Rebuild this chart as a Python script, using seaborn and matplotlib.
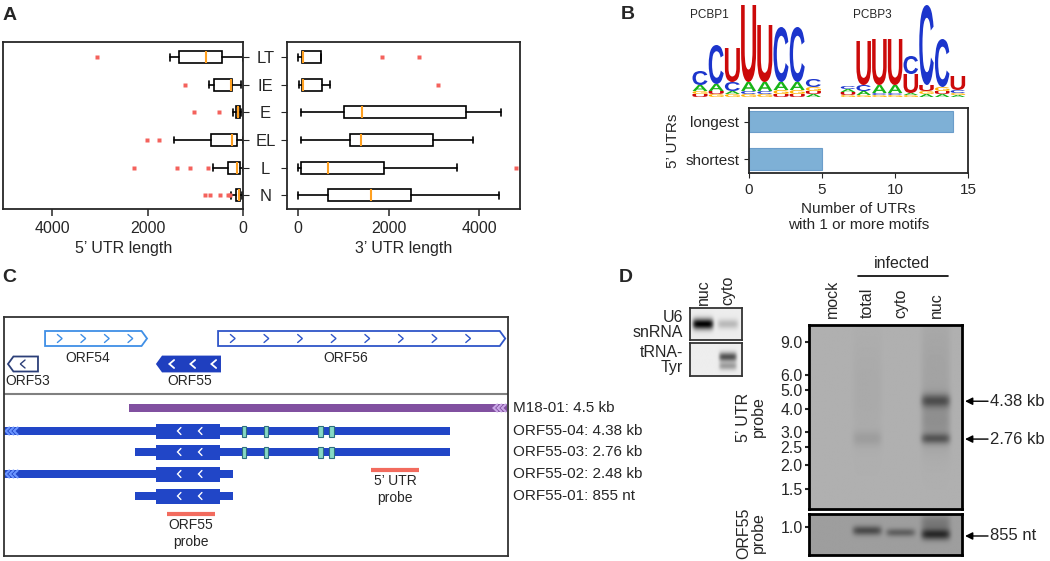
import numpy as np
import matplotlib
matplotlib.use("Agg")
import matplotlib.pyplot as plt
import seaborn as sns
from matplotlib.patches import Polygon, Rectangle, PathPatch
from matplotlib.textpath import TextPath
from matplotlib.font_manager import FontProperties
from matplotlib.transforms import Affine2D

# ---------------- data ----------------
# A: UTR length summaries per kinetic class
classes = ["LT", "IE", "E", "EL", "L", "N"]
utr5_lo = [10, 40, 40, 10, 5, 20]
utr5_q1 = [433, 223, 70, 119, 70, 56]
utr5_med = [768, 258, 100, 223, 119, 84]
utr5_q3 = [1347, 607, 150, 677, 314, 140]
utr5_hi = [1536, 719, 200, 1438, 628, 244]
utr5_out = [[3072], [1208], [1033, 510], [2024, 1759],
            [2290, 1382, 1117, 726], [803, 698, 489, 307, 279]]

utr3_lo = [0, 15, 60, 60, 0, 0]
utr3_q1 = [74, 88, 1017, 1142, 52, 663]
utr3_med = [110, 95, 1400, 1378, 663, 1599]
utr3_q3 = [494, 530, 3705, 2983, 1900, 2483]
utr3_hi = [494, 700, 4471, 3867, 3499, 4442]
utr3_out = [[1842, 2667], [3087], [], [], [4803], []]

# B: motif counts and logos (letter, height) bottom -> top
utr_groups = ["longest", "shortest"]
motif_counts = [14, 5]
pcbp1_logo = [
    [("U", 3), ("G", 3), ("A", 6), ("C", 14)],
    [("G", 3), ("U", 3), ("A", 7), ("C", 39)],
    [("G", 3), ("A", 3), ("C", 9), ("U", 34)],
    [("G", 3), ("C", 3), ("A", 9), ("U", 77)],
    [("G", 3), ("C", 3), ("A", 9), ("U", 57)],
    [("U", 3), ("G", 4), ("A", 8), ("C", 55)],
    [("U", 3), ("G", 4), ("A", 8), ("C", 55)],
    [("A", 3), ("U", 3), ("G", 4), ("C", 8)],
]
pcbp3_logo = [
    [("G", 2), ("U", 3), ("A", 3), ("C", 3)],
    [("G", 2), ("A", 4), ("C", 6), ("U", 44)],
    [("G", 2), ("C", 2), ("A", 8), ("U", 46)],
    [("G", 2), ("C", 2), ("A", 8), ("U", 46)],
    [("G", 2), ("A", 2), ("U", 19), ("C", 18)],
    [("A", 3), ("G", 3), ("U", 6), ("C", 80)],
    [("A", 3), ("U", 3), ("G", 4), ("C", 48)],
    [("A", 2), ("G", 2), ("C", 3), ("U", 14)],
]
letter_colors = {"A": "#18b418", "C": "#1c35cc", "G": "#ffb000", "U": "#cc0a0a"}

# C: locus (bp)
orf_names = ["ORF53", "ORF54", "ORF55", "ORF56"]
orf_start = [52, 493, 1825, 2551]
orf_end = [409, 1706, 2575, 5967]
orf_strand = [-1, 1, -1, 1]
orf_track = [1, 0, 1, 0]
orf_label_x = [290, 1000, 2220, 4070]
tx_names = ["M18-01: 4.5 kb", "ORF55-04: 4.38 kb", "ORF55-03: 2.76 kb",
            "ORF55-02: 2.48 kb", "ORF55-01: 855 nt"]
tx_start = [1492, 5, 1564, 5, 1564]
tx_end = [5993, 5312, 5312, 2730, 2730]
tx_cds = [None, (1813, 2575), (1813, 2575), (1813, 2575), (1813, 2575)]
tx_extends = ["right", "left", None, "left", None]
tx_marks = [[], [2861, 3123, 3766, 3897], [2861, 3123, 3766, 3897], [], []]
probe_names = ["5\u2019 UTR\nprobe", "ORF55\nprobe"]
probe_start = [4373, 1944]
probe_end = [4944, 2516]

# D: northern blots
lanes = ["mock", "total", "cyto", "nuc"]
size_markers = [9.0, 6.0, 5.0, 4.0, 3.0, 2.5, 2.0, 1.5]
utr_bands = [("nuc", 4.38, 0.30, 0.035), ("nuc", 2.76, 0.28, 0.028),
             ("nuc", 3.4, 0.10, 0.12), ("nuc", 6.0, 0.05, 0.35),
             ("total", 2.76, 0.06, 0.04), ("total", 5.0, 0.025, 0.3)]
utr_arrows = [("4.38 kb", 4.38), ("2.76 kb", 2.76)]
orf_bands = [("total", 0.93, 0.32, 0.035), ("cyto", 0.90, 0.24, 0.03),
             ("nuc", 0.87, 0.42, 0.04), ("nuc", 1.05, 0.15, 0.07)]
orf_arrows = [("855 nt", 0.855)]
frac_lanes = ["nuc", "cyto"]
u6_bands = [("nuc", 0.5, 0.92, 0.17), ("cyto", 0.5, 0.2, 0.15)]
trna_bands = [("cyto", 0.58, 0.6, 0.14), ("cyto", 0.3, 0.3, 0.12)]

# ---------------- figure ----------------
sns.set_style("ticks")
plt.rcParams["font.family"] = ["Liberation Sans", "DejaVu Sans"]
plt.rcParams["font.size"] = 11.5

W, H = 1050, 561
fig = plt.figure(figsize=(W / 100, H / 100), dpi=100)


def px_rect(x, y, w, h):
    return [x / W, 1 - (y + h) / H, w / W, h / H]


canvas = fig.add_axes([0, 0, 1, 1])
canvas.set_xlim(0, W)
canvas.set_ylim(H, 0)
canvas.axis("off")

for lab, (x, y) in zip("ABCD", [(10, 15), (628, 14), (9, 277), (626, 277)]):
    canvas.text(x, y, lab, fontsize=14, fontweight="bold", ha="center", va="center")

# ---- A ----
def box_stats(lo, q1, med, q3, hi, out):
    return [dict(whislo=a, q1=b, med=c, q3=d, whishi=e, fliers=f)
            for a, b, c, d, e, f in zip(lo, q1, med, q3, hi, out)]


box_kw = dict(positions=range(len(classes)), orientation="horizontal", widths=0.43,
              capwidths=0.25, patch_artist=True,
              boxprops=dict(facecolor="white", edgecolor="black", linewidth=1.2),
              medianprops=dict(color="#ffa020", linewidth=1.5),
              whiskerprops=dict(color="black", linewidth=1.2),
              capprops=dict(color="black", linewidth=1.2),
              flierprops=dict(marker="s", markersize=3.2, markerfacecolor="#f4625c",
                              markeredgecolor="none"))

axL = fig.add_axes(px_rect(3.3, 42, 239.7, 167))
axL.bxp(box_stats(utr5_lo, utr5_q1, utr5_med, utr5_q3, utr5_hi, utr5_out), **box_kw)
axL.set_xlim(5030, 0)
axL.set_ylim(5.5, -0.55)
axL.yaxis.tick_right()
axL.set_yticks(range(len(classes)))
axL.set_yticklabels([])
axL.set_xticks([0, 2000, 4000])
axL.set_xlabel("5\u2019 UTR length")

axR = fig.add_axes(px_rect(287.3, 42, 232.7, 167))
axR.bxp(box_stats(utr3_lo, utr3_q1, utr3_med, utr3_q3, utr3_hi, utr3_out), **box_kw)
axR.set_xlim(-243, 4900)
axR.set_ylim(5.5, -0.55)
axR.set_yticks(range(len(classes)))
axR.set_yticklabels(classes, fontsize=12)
for t in axR.get_yticklabels():
    t.set_horizontalalignment("center")
axR.set_xticks([0, 2000, 4000])
axR.set_xlabel("3\u2019 UTR length")
axR.tick_params(axis="y", length=4.3, pad=11.5)
axL.tick_params(axis="y", length=4.3)
for ax in (axL, axR):
    ax.tick_params(axis="x", length=4.8, width=1.1)
    for s in ax.spines.values():
        s.set_linewidth(1.3)

# ---- B ----
axB = fig.add_axes(px_rect(749, 108, 219, 65))
sns.barplot(x=motif_counts, y=utr_groups, orient="h", color="#7eb0d6", saturation=1,
            width=0.57, edgecolor="#6b9dca", linewidth=0.8, ax=axB)
axB.set_xlim(0, 15)
axB.set_ylim(1.37, -0.36)
axB.set_xticks([0, 5, 10, 15])
axB.set_xlabel("Number of UTRs\nwith 1 or more motifs", fontsize=11, linespacing=1.15)
axB.set_ylabel("5\u2019 UTRs", fontsize=11)
axB.tick_params(labelsize=11, length=3.6)
for s in axB.spines.values():
    s.set_linewidth(1.3)

logo_font = FontProperties(family="Liberation Sans", weight="bold")


def draw_letter(ax, ch, xc, y_bottom, w, h, color):
    tp = TextPath((0, 0), ch, size=1, prop=logo_font)
    bb = tp.get_extents()
    tr = (Affine2D().translate(-bb.x0, -bb.y0)
          .scale(w / bb.width, -h / bb.height).translate(xc - w / 2, y_bottom))
    ax.add_patch(PathPatch(tr.transform_path(tp), fc=color, ec="none"))


def draw_logo(ax, stacks, x0, step, base, width):
    for i, stack in enumerate(stacks):
        y = base
        for ch, h in stack:
            draw_letter(ax, ch, x0 + i * step, y, width, h, letter_colors[ch])
            y -= h


draw_logo(canvas, pcbp1_logo, 700, 16.2, 97, 15)
draw_logo(canvas, pcbp3_logo, 848, 15.7, 97, 14.5)
canvas.text(690, 15, "PCBP1", fontsize=8.5, ha="left", va="center")
canvas.text(853, 15, "PCBP3", fontsize=8.5, ha="left", va="center")

# ---- C ----
axC = fig.add_axes(px_rect(3.6, 317, 504.4, 239))
axC.set_xlim(0, 6000)
axC.set_ylim(239, 0)
axC.set_xticks([])
axC.set_yticks([])
for s in axC.spines.values():
    s.set_linewidth(1.3)
    s.set_color("#333333")
axC.axhline(77, color="#808080", lw=1.5)

track_y = [21.5, 47]
label_y = [41, 64]
orf_ec = ["#2c3f78", "#3f8fe6", "#1f3fbf", "#2f55c8"]
orf_fc = ["white", "white", "#1f3fbf", "white"]
chev_c = ["#2c3f78", "#3f8fe6", "white", "#2f55c8"]
chev_step = [400, 280, 250, 400]


def chevron(ax, x, y, strand, color, dx=28, dy=4, lw=1.1):
    ax.plot([x - strand * dx, x + strand * dx, x - strand * dx], [y - dy, y, y + dy],
            color=color, lw=lw, solid_capstyle="round", solid_joinstyle="miter")


for i, name in enumerate(orf_names):
    s, e, st = orf_start[i], orf_end[i], orf_strand[i]
    y, h, tip = track_y[orf_track[i]], 15, 65
    if st > 0:
        pts = [(s, y - h / 2), (e - tip, y - h / 2), (e, y), (e - tip, y + h / 2), (s, y + h / 2)]
    else:
        pts = [(e, y - h / 2), (s + tip, y - h / 2), (s, y), (s + tip, y + h / 2), (e, y + h / 2)]
    axC.add_patch(Polygon(pts, closed=True, fc=orf_fc[i], ec=orf_ec[i], lw=1.3))
    for cx in np.arange(s + tip + 110, e - tip, chev_step[i]):
        chevron(axC, cx, y, st, chev_c[i], lw=1.3 if orf_fc[i] != "white" else 1.0)
    axC.text(orf_label_x[i], label_y[orf_track[i]], name, fontsize=10, ha="center", va="center")

tx_y = [91, 114, 135, 157, 179]
blue, purple = "#2146c7", "#8150a0"
for i, name in enumerate(tx_names):
    y = tx_y[i]
    col = purple if i == 0 else blue
    axC.add_patch(Rectangle((tx_start[i], y - 4), tx_end[i] - tx_start[i], 8, fc=col, ec="none"))
    if tx_cds[i]:
        c0, c1 = tx_cds[i]
        axC.add_patch(Rectangle((c0, y - 7.5), c1 - c0, 15, fc=blue, ec="none"))
        for cx in (2089, 2339):
            chevron(axC, cx, y, -1, "white", dx=20, dy=3.5, lw=1.0)
    for m in tx_marks[i]:
        axC.add_patch(Rectangle((m - 28, y - 5.5), 56, 11, fc="#86d9c4", ec="#2f6f80", lw=0.8))
    if tx_extends[i] == "left":
        for cx in (45, 95, 145):
            chevron(axC, cx, y, -1, "#6b95ff", dx=22, dy=3.5, lw=1.5)
    elif tx_extends[i] == "right":
        for cx in (5850, 5900, 5950):
            chevron(axC, cx, y, -1, "#c9a6e6", dx=22, dy=3.5, lw=1.5)
    axC.text(6062, y, name, fontsize=11, ha="left", va="center", clip_on=False)

probe_y = [153, 197]
for name, s, e, y in zip(probe_names, probe_start, probe_end, probe_y):
    axC.plot([s, e], [y, y], color="#f26b5e", lw=3, solid_capstyle="butt")
    axC.text((s + e) / 2, y + 4, name, fontsize=10, ha="center", va="top", linespacing=1.25)

# ---- D ----
def blot(ax, bands, lane_names, lane_x, yr, bg, half_w=0.095):
    xs = np.linspace(0, 1, 200)
    ys = np.linspace(yr[0], yr[1], 240)
    X, Y = np.meshgrid(xs, ys)
    img = np.full_like(X, bg)
    for lane, yc, depth, sig in bands:
        xc = lane_x[lane_names.index(lane)]
        img -= depth * np.exp(-((X - xc) / half_w) ** 6) * np.exp(-((Y - yc) / sig) ** 2)
    ax.imshow(np.clip(img, 0, 1), cmap="gray", vmin=0, vmax=1, origin="lower",
              extent=(0, 1, yr[0], yr[1]), aspect="auto", interpolation="bilinear")
    ax.set_xlim(0, 1)
    ax.set_ylim(*yr)
    for s in ax.spines.values():
        s.set_linewidth(2)
        s.set_color("black")


def add_arrows(ax, arrows):
    tr = ax.get_yaxis_transform()
    for lab, kb in arrows:
        yv = np.log10(kb)
        ax.annotate("", xy=(1.02, yv), xycoords=tr, xytext=(1.17, yv), textcoords=tr,
                    arrowprops=dict(arrowstyle="-|>", color="black", lw=1,
                                    mutation_scale=11, shrinkA=0, shrinkB=0))
        ax.text(1.18, yv, lab, transform=tr, ha="left", va="center", fontsize=12)


lane_x = [0.15, 0.38, 0.60, 0.83]
axM = fig.add_axes(px_rect(809, 325, 153, 184))
main_yr = (np.log10(1.176), np.log10(11.1))
blot(axM, [(l, np.log10(k), d, s) for l, k, d, s in utr_bands], lanes, lane_x, main_yr, 0.69)
axM.set_yticks(np.log10(size_markers))
axM.set_yticklabels([f"{v:.1f}" for v in size_markers])
axM.tick_params(axis="y", length=3, width=1.5, pad=1.5, labelsize=11.5)
axM.xaxis.tick_top()
axM.set_xticks(lane_x)
axM.set_xticklabels(lanes, rotation=90, fontsize=11.5)
axM.tick_params(axis="x", length=0, pad=5)
add_arrows(axM, utr_arrows)

axO = fig.add_axes(px_rect(809, 514, 153, 41))
low_yr = (np.log10(0.614), np.log10(1.254))
blot(axO, [(l, np.log10(k), d, s) for l, k, d, s in orf_bands], lanes, lane_x, low_yr, 0.62)
axO.set_xticks([])
axO.set_yticks([0.0])
axO.set_yticklabels(["1.0"])
axO.tick_params(axis="y", length=3, width=1.5, pad=1.5, labelsize=11.5)
add_arrows(axO, orf_arrows)

frac_x = [0.25, 0.73]
axU6 = fig.add_axes(px_rect(690, 308, 52, 32))
blot(axU6, u6_bands, frac_lanes, frac_x, (0, 1), 0.93, half_w=0.2)
axU6.xaxis.tick_top()
axU6.set_xticks(frac_x)
axU6.set_xticklabels(frac_lanes, rotation=90, fontsize=11.5)
axU6.tick_params(axis="x", length=0, pad=2)
axU6.set_yticks([])
axT = fig.add_axes(px_rect(690, 343, 52, 33))
blot(axT, trna_bands, frac_lanes, frac_x, (0, 1), 0.93, half_w=0.17)
axT.set_xticks([])
axT.set_yticks([])
for ax in (axU6, axT):
    for s in ax.spines.values():
        s.set_linewidth(1.3)
        s.set_color("#333333")

canvas.text(683, 325, "U6\nsnRNA", ha="right", va="center", fontsize=11.5, linespacing=0.95)
canvas.text(683, 360, "tRNA-\nTyr", ha="right", va="center", fontsize=11.5, linespacing=0.95)
canvas.text(751, 417, "5\u2019 UTR\nprobe", rotation=90, ha="center", va="center",
            fontsize=11.5, linespacing=1.0)
canvas.text(751, 533, "ORF55\nprobe", rotation=90, ha="center", va="center",
            fontsize=11.5, linespacing=1.0)
canvas.text(902, 263, "infected", ha="center", va="center", fontsize=11.5)
canvas.plot([858, 948], [276, 276], color="black", lw=1.2)

fig.savefig("out.png", dpi=100)
